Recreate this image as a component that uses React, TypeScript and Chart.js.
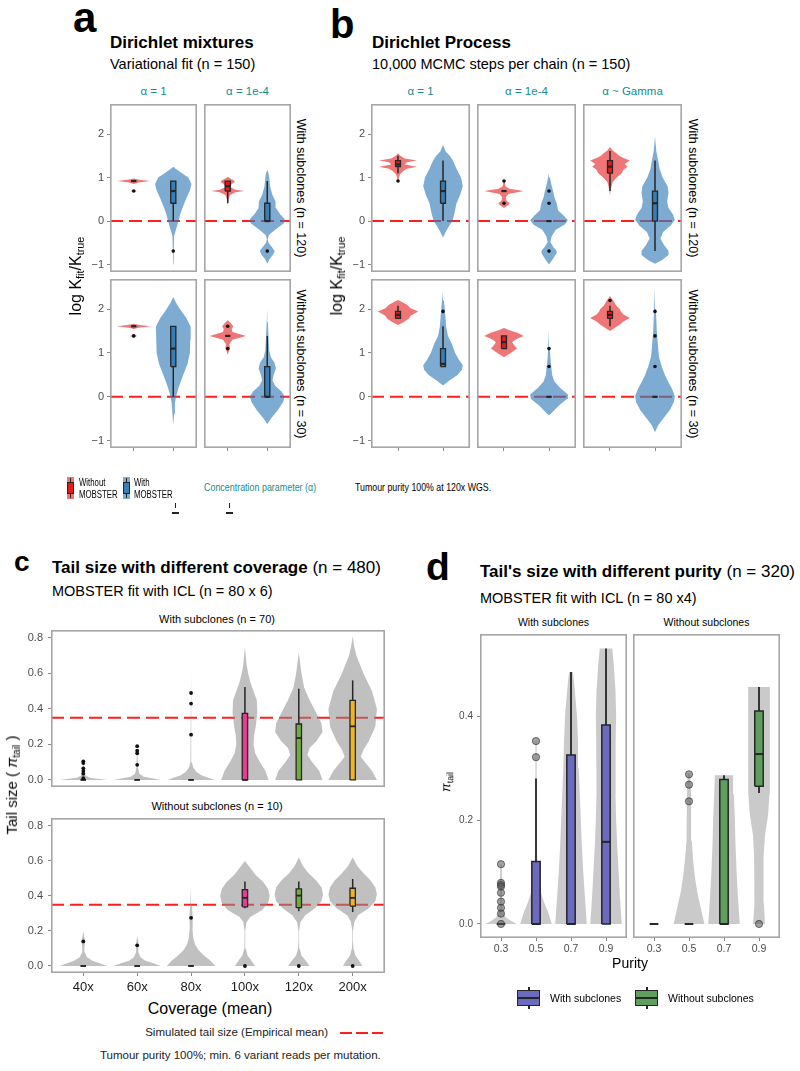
import React, { useEffect, useRef } from 'react';
import { Chart, registerables } from 'chart.js';

Chart.register(...registerables);

const FONT = '"Liberation Sans", Arial, Helvetica, sans-serif';
Chart.defaults.font.family = FONT;

/* ======================= Panels a & b : log(K_fit / K_true) ======================= */
const AB_Y_MIN = -1.17;
const AB_Y_MAX = 2.69;
const AB_Y_TICKS = [-1, 0, 1, 2];
const AB_Y_LABELS = ['\u22121', '0', '1', '2'];
const AB_GROUPS = ['Without MOBSTER', 'With MOBSTER'];
const AB_X_LABELS = ['', ''];
const AB_REF = 0;
const A_STRIPS = ['α = 1', 'α = 1e-4'];
const B_STRIPS = ['α = 1', 'α = 1e-4', 'α ~ Gamma'];
const AB_ROWS = ['With subclones (n = 120)', 'Without subclones (n = 30)'];

// violin profiles: [value, half-width in category units]
const A1_TOP_WO = [[0.66, 0], [0.69, 0.08], [0.72, 0], [0.85, 0], [0.89, 0.15], [0.92, 0.42], [0.95, 0.15], [0.98, 0]];
const A1_TOP_W = [[-1.0, 0], [-0.7, 0.012], [-0.35, 0.02], [-0.25, 0.05], [-0.1, 0.1], [0, 0.13], [0.2, 0.19], [0.5, 0.32], [0.7, 0.42], [0.85, 0.46], [1.0, 0.38], [1.1, 0.22], [1.2, 0.06], [1.25, 0]];
const A2_TOP_WO = [[0.38, 0], [0.5, 0.02], [0.6, 0.06], [0.66, 0.2], [0.69, 0.42], [0.72, 0.2], [0.78, 0.06], [0.85, 0.1], [0.9, 0.18], [0.94, 0.15], [0.98, 0.06], [1.02, 0]];
const A2_TOP_W = [[-0.98, 0], [-0.88, 0.05], [-0.78, 0.14], [-0.69, 0.19], [-0.6, 0.12], [-0.5, 0.03], [-0.42, 0.01], [-0.32, 0.04], [-0.2, 0.2], [-0.05, 0.42], [0.05, 0.44], [0.15, 0.33], [0.3, 0.22], [0.45, 0.21], [0.6, 0.13], [0.8, 0.07], [1.0, 0.05], [1.1, 0.03], [1.18, 0]];
const A1_BOT_WO = [[1.34, 0], [1.39, 0.08], [1.44, 0], [1.55, 0], [1.58, 0.15], [1.61, 0.44], [1.64, 0.15], [1.67, 0]];
const A1_BOT_W = [[-0.65, 0], [-0.4, 0.02], [-0.15, 0.04], [0, 0.07], [0.2, 0.13], [0.5, 0.25], [0.75, 0.36], [1.0, 0.42], [1.3, 0.43], [1.6, 0.44], [1.8, 0.33], [2.0, 0.17], [2.15, 0.07], [2.28, 0]];
const A2_BOT_WO = [[0.95, 0], [1.05, 0.03], [1.1, 0.06], [1.2, 0.04], [1.3, 0.12], [1.39, 0.46], [1.48, 0.12], [1.55, 0.1], [1.61, 0.14], [1.68, 0.08], [1.75, 0]];
const A2_BOT_W = [[-0.62, 0], [-0.5, 0.09], [-0.3, 0.27], [-0.12, 0.4], [0, 0.44], [0.12, 0.36], [0.25, 0.2], [0.38, 0.13], [0.5, 0.16], [0.65, 0.22], [0.78, 0.18], [0.9, 0.09], [1.05, 0.05], [1.4, 0.03], [1.7, 0.015], [2.0, 0]];

// boxes: [lower whisker, q1, median, q3, upper whisker] per group; outliers per group
const A1_TOP_BOX = [[0.92, 0.92, 0.92, 0.92, 0.92], [0, 0.41, 0.69, 0.92, 0.92]];
const A1_TOP_OUT = [[0.69], [-0.69]];
const A2_TOP_BOX = [[0.41, 0.69, 0.8, 0.92, 0.92], [0, 0, 0, 0.41, 0.92]];
const A2_TOP_OUT = [[], [-0.69]];
const A1_BOT_BOX = [[1.61, 1.61, 1.61, 1.61, 1.61], [0, 0.69, 1.1, 1.61, 1.61]];
const A1_BOT_OUT = [[1.39], []];
const A2_BOT_BOX = [[1.39, 1.39, 1.39, 1.39, 1.39], [0, 0, 0, 0.69, 1.39]];
const A2_BOT_OUT = [[1.61, 1.1], []];

const B1_TOP_WO = [[0.9, 0], [1.0, 0.02], [1.08, 0.05], [1.15, 0.12], [1.2, 0.2], [1.25, 0.42], [1.3, 0.15], [1.35, 0.2], [1.39, 0.42], [1.44, 0.15], [1.5, 0.05], [1.56, 0]];
const B1_TOP_W = [[-0.38, 0], [-0.25, 0.06], [-0.1, 0.14], [0, 0.21], [0.2, 0.26], [0.41, 0.3], [0.6, 0.38], [0.8, 0.44], [1.0, 0.4], [1.2, 0.3], [1.39, 0.22], [1.5, 0.15], [1.6, 0.06], [1.75, 0]];
const B2_TOP_WO = [[0.3, 0], [0.36, 0.08], [0.41, 0.13], [0.46, 0.06], [0.55, 0.04], [0.62, 0.1], [0.69, 0.44], [0.74, 0.12], [0.8, 0.03], [0.9, 0.02], [0.96, 0]];
const B2_TOP_W = [[-1.0, 0], [-0.88, 0.08], [-0.75, 0.16], [-0.69, 0.17], [-0.6, 0.1], [-0.48, 0.03], [-0.35, 0.06], [-0.2, 0.15], [-0.08, 0.35], [0.02, 0.42], [0.12, 0.33], [0.25, 0.2], [0.41, 0.17], [0.55, 0.12], [0.69, 0.09], [0.85, 0.05], [1.0, 0.02], [1.1, 0]];
const B3_TOP_WO = [[0.6, 0], [0.75, 0.02], [0.9, 0.06], [1.0, 0.15], [1.1, 0.26], [1.18, 0.3], [1.25, 0.39], [1.31, 0.33], [1.39, 0.44], [1.45, 0.3], [1.5, 0.2], [1.55, 0.15], [1.62, 0.06], [1.7, 0]];
const B3_TOP_W = [[-0.98, 0], [-0.9, 0.15], [-0.78, 0.3], [-0.69, 0.3], [-0.55, 0.2], [-0.4, 0.12], [-0.25, 0.18], [-0.1, 0.35], [0.03, 0.44], [0.15, 0.4], [0.3, 0.3], [0.45, 0.27], [0.65, 0.3], [0.8, 0.28], [1.0, 0.17], [1.2, 0.1], [1.39, 0.07], [1.6, 0.03], [1.94, 0]];
const B1_BOT_WO = [[1.64, 0], [1.7, 0.12], [1.78, 0.24], [1.85, 0.28], [1.95, 0.45], [2.02, 0.28], [2.1, 0.2], [2.17, 0.08], [2.21, 0]];
const B1_BOT_W = [[0.26, 0], [0.38, 0.15], [0.5, 0.32], [0.62, 0.42], [0.72, 0.44], [0.85, 0.35], [1.0, 0.27], [1.2, 0.2], [1.39, 0.11], [1.6, 0.07], [2.0, 0.04], [2.2, 0.02], [2.4, 0]];
const B2_BOT_WO = [[0.9, 0], [1.0, 0.15], [1.1, 0.29], [1.18, 0.22], [1.25, 0.18], [1.32, 0.28], [1.39, 0.44], [1.46, 0.3], [1.52, 0.12], [1.57, 0]];
const B2_BOT_W = [[-0.43, 0], [-0.35, 0.08], [-0.2, 0.22], [-0.05, 0.4], [0.05, 0.42], [0.2, 0.25], [0.35, 0.12], [0.5, 0.07], [0.7, 0.05], [0.9, 0.03], [1.1, 0.02], [1.52, 0]];
const B3_BOT_WO = [[1.5, 0], [1.58, 0.12], [1.65, 0.22], [1.72, 0.3], [1.8, 0.44], [1.88, 0.3], [1.95, 0.24], [2.0, 0.22], [2.08, 0.14], [2.2, 0.07], [2.3, 0]];
const B3_BOT_W = [[-0.81, 0], [-0.65, 0.07], [-0.5, 0.18], [-0.3, 0.33], [-0.12, 0.42], [0.02, 0.44], [0.18, 0.38], [0.35, 0.29], [0.5, 0.22], [0.69, 0.15], [0.9, 0.09], [1.1, 0.07], [1.5, 0.04], [2.0, 0.02], [2.5, 0]];

const B1_TOP_BOX = [[1.1, 1.25, 1.3, 1.39, 1.5], [0, 0.41, 0.69, 0.92, 1.39]];
const B1_TOP_OUT = [[0.92], []];
const B2_TOP_BOX = [[0.69, 0.69, 0.69, 0.69, 0.69], [0, 0, 0, 0, 0]];
const B2_TOP_OUT = [[0.92, 0.41], [0.69, 0.41, -0.69]];
const B3_TOP_BOX = [[0.69, 1.1, 1.25, 1.39, 1.61], [-0.69, 0, 0.41, 0.69, 1.39]];
const B3_TOP_OUT = [[], []];
const B1_BOT_BOX = [[1.79, 1.79, 1.87, 1.95, 2.08], [0.69, 0.69, 0.75, 1.1, 1.61]];
const B1_BOT_OUT = [[], [1.95]];
const B2_BOT_BOX = [[1.1, 1.1, 1.25, 1.39, 1.39], [0, 0, 0, 0, 0]];
const B2_BOT_OUT = [[], [1.1, 0.69]];
const B3_BOT_BOX = [[1.61, 1.79, 1.87, 1.95, 2.08], [0, 0, 0, 0, 0]];
const B3_BOT_OUT = [[2.2], [1.95, 1.39, 0.69]];

const AB_VIOLIN_COLORS = ['rgba(228,26,28,0.6)', 'rgba(55,126,184,0.65)'];
const AB_BOX_COLORS = ['#E8191B', '#377EB8'];

/* ======================= Panel c : tail size vs coverage ======================= */
const C_Y_MIN = -0.04;
const C_Y_MAX = 0.845;
const C_Y_TICKS = [0, 0.2, 0.4, 0.6, 0.8];
const C_Y_LABELS = ['0.0', '0.2', '0.4', '0.6', '0.8'];
const C_COVERAGE = ['40x', '60x', '80x', '100x', '120x', '200x'];
const C_REF = 0.35;
const C_ROWS = ['With subclones (n = 70)', 'Without subclones (n = 10)'];

const C_TOP_VIOLINS = [
  [[0, 0.44], [0.005, 0.3], [0.012, 0.12], [0.025, 0.04], [0.05, 0.015], [0.1, 0.005], [0.13, 0]],
  [[0, 0.44], [0.008, 0.3], [0.018, 0.12], [0.035, 0.04], [0.07, 0.015], [0.14, 0.006], [0.2, 0]],
  [[0, 0.44], [0.01, 0.35], [0.025, 0.2], [0.045, 0.1], [0.07, 0.04], [0.1, 0.015], [0.2, 0.008], [0.4, 0.005], [0.6, 0]],
  [[0, 0.44], [0.05, 0.38], [0.1, 0.28], [0.15, 0.19], [0.2, 0.16], [0.25, 0.17], [0.3, 0.2], [0.38, 0.23], [0.45, 0.22], [0.5, 0.16], [0.55, 0.1], [0.6, 0.06], [0.65, 0.03], [0.75, 0]],
  [[0, 0.44], [0.05, 0.38], [0.1, 0.25], [0.14, 0.16], [0.18, 0.2], [0.22, 0.33], [0.27, 0.44], [0.32, 0.42], [0.38, 0.32], [0.45, 0.2], [0.52, 0.1], [0.6, 0.05], [0.72, 0]],
  [[0, 0.45], [0.05, 0.36], [0.1, 0.23], [0.13, 0.15], [0.17, 0.2], [0.22, 0.3], [0.3, 0.42], [0.4, 0.45], [0.5, 0.36], [0.6, 0.2], [0.7, 0.07], [0.75, 0.03], [0.81, 0]],
];
const C_TOP_BOX = [[0, 0, 0, 0, 0], [0, 0, 0, 0, 0], [0, 0, 0, 0, 0], [0, 0, 0, 0.375, 0.523], [0, 0, 0.236, 0.315, 0.514], [0, 0, 0.302, 0.448, 0.561]];
const C_TOP_OUT = [[0.105, 0.095, 0.065, 0.05, 0.035, 0.01], [0.19, 0.165, 0.15, 0.085], [0.49, 0.43, 0.255], [], [], []];

const C_BOT_VIOLINS = [
  [[0, 0.44], [0.015, 0.3], [0.03, 0.17], [0.05, 0.07], [0.08, 0.02], [0.11, 0.02], [0.14, 0.035], [0.17, 0.015], [0.2, 0]],
  [[0, 0.44], [0.015, 0.3], [0.03, 0.15], [0.05, 0.06], [0.08, 0.02], [0.1, 0.02], [0.12, 0.03], [0.14, 0.015], [0.17, 0]],
  [[0, 0.45], [0.03, 0.36], [0.06, 0.24], [0.09, 0.14], [0.12, 0.08], [0.16, 0.04], [0.22, 0.025], [0.28, 0.03], [0.35, 0.015], [0.45, 0]],
  [[0, 0.19], [0.03, 0.12], [0.06, 0.05], [0.1, 0.015], [0.15, 0.005], [0.2, 0.006], [0.25, 0.03], [0.28, 0.1], [0.32, 0.32], [0.36, 0.43], [0.4, 0.46], [0.44, 0.43], [0.48, 0.34], [0.52, 0.2], [0.56, 0.1], [0.6, 0]],
  [[0, 0.2], [0.03, 0.13], [0.06, 0.05], [0.1, 0.015], [0.15, 0.005], [0.2, 0.006], [0.25, 0.03], [0.29, 0.12], [0.33, 0.3], [0.37, 0.42], [0.41, 0.45], [0.45, 0.42], [0.49, 0.32], [0.53, 0.18], [0.57, 0.08], [0.62, 0]],
  [[0, 0.18], [0.03, 0.12], [0.06, 0.05], [0.1, 0.015], [0.15, 0.005], [0.2, 0.006], [0.25, 0.03], [0.29, 0.1], [0.33, 0.3], [0.37, 0.42], [0.41, 0.45], [0.45, 0.42], [0.49, 0.33], [0.53, 0.2], [0.57, 0.09], [0.62, 0]],
];
const C_BOT_BOX = [[0, 0, 0, 0, 0], [0, 0, 0, 0, 0], [0, 0, 0, 0, 0], [0.329, 0.338, 0.389, 0.436, 0.483], [0.313, 0.333, 0.402, 0.44, 0.483], [0.308, 0.342, 0.389, 0.444, 0.497]];
const C_BOT_OUT = [[0.14], [0.118], [0.275], [0], [0], [0]];

const C_VIOLIN_COLOR = 'rgba(140,140,140,0.55)';
const C_BOX_COLORS = ['#444', '#444', '#444', '#EA3A93', '#74AC38', '#F1B51D'];

/* ======================= Panel d : tail size vs purity ======================= */
const D_Y_MIN = -0.027;
const D_Y_MAX = 0.558;
const D_Y_TICKS = [0, 0.2, 0.4];
const D_Y_LABELS = ['0.0', '0.2', '0.4'];
const D_PURITY = ['0.3', '0.5', '0.7', '0.9'];
const D_FACETS = ['With subclones', 'Without subclones'];

const D_WITH_VIOLINS = [
  [[0, 0.45], [0.005, 0.3], [0.012, 0.15], [0.02, 0.07], [0.04, 0.035], [0.08, 0.03], [0.115, 0.02]],
  [[0, 0.45], [0.02, 0.36], [0.04, 0.24], [0.06, 0.14], [0.08, 0.07], [0.1, 0.04], [0.15, 0.025], [0.2, 0.02], [0.28, 0.02], [0.352, 0.015]],
  [[0, 0.45], [0.05, 0.4], [0.1, 0.35], [0.15, 0.31], [0.2, 0.28], [0.25, 0.25], [0.3, 0.22], [0.35, 0.2], [0.4, 0.17], [0.44, 0.12], [0.47, 0.08], [0.485, 0.05]],
  [[0, 0.45], [0.05, 0.4], [0.1, 0.36], [0.15, 0.32], [0.2, 0.29], [0.25, 0.27], [0.3, 0.27], [0.35, 0.28], [0.4, 0.29], [0.45, 0.27], [0.5, 0.22], [0.53, 0.18]],
];
const D_WITH_BOX = [[0, 0, 0, 0, 0], [0, 0, 0, 0.12, 0.28], [0, 0, 0, 0.325, 0.485], [0, 0, 0.158, 0.383, 0.53]];
const D_WITH_OUT = [[0.115, 0.079, 0.075, 0.072, 0.06, 0.043, 0.031, 0.02, 0], [0.352, 0.321], [], []];

const D_WITHOUT_VIOLINS = [
  [],
  [[0, 0.44], [0.03, 0.34], [0.06, 0.24], [0.09, 0.17], [0.12, 0.12], [0.16, 0.08], [0.2, 0.06], [0.24, 0.06], [0.27, 0.05], [0.29, 0.04]],
  [[0, 0.45], [0.05, 0.4], [0.1, 0.36], [0.15, 0.33], [0.2, 0.31], [0.25, 0.28], [0.286, 0.26]],
  [[0, 0.17], [0.04, 0.14], [0.085, 0.12], [0.13, 0.14], [0.17, 0.17], [0.21, 0.26], [0.25, 0.3], [0.3, 0.31], [0.35, 0.31], [0.4, 0.31], [0.456, 0.31]],
];
const D_WITHOUT_BOX = [[0, 0, 0, 0, 0], [0, 0, 0, 0, 0], [0, 0, 0, 0.278, 0.286], [0.252, 0.265, 0.327, 0.41, 0.456]];
const D_WITHOUT_OUT = [[], [0.288, 0.268, 0.236], [], [0]];

const D_VIOLIN_COLOR = 'rgba(150,150,150,0.5)';
const D_WITH_COLOR = '#6A6ABF';
const D_WITHOUT_COLOR = '#5E9F5E';

/* ======================= chart building ======================= */
const DARK = '#262626';
const REF_RED = '#FF1E1E';

function lineDs(data, color, width, order) {
  return { type: 'line', data, borderColor: color, borderWidth: width, pointRadius: 0, fill: false, order, borderCapStyle: 'butt' };
}

const panelBorder = {
  id: 'panelBorder',
  afterDatasetsDraw(chart) {
    const { ctx, chartArea: a } = chart;
    ctx.save();
    ctx.strokeStyle = '#A6A6A6';
    ctx.lineWidth = 1.6;
    ctx.strokeRect(a.left + 0.8, a.top + 0.8, a.right - a.left - 1.6, a.bottom - a.top - 1.6);
    ctx.restore();
  },
};

const STYLE = {
  ab: { boxHalf: 0.065, boxW: 1.3, medW: 2.2, whW: 1.5, ptR: 1.8, ptFill: '#111', ptBorder: '#111', ptBW: 0, yFont: 11, yPad: 3, xFont: 11, xPad: 2, xColor: '#4D4D4D' },
  b: { boxHalf: 0.055, boxW: 1.3, medW: 2.2, whW: 1.5, ptR: 1.8, ptFill: '#111', ptBorder: '#111', ptBW: 0, yFont: 11, yPad: 3, xFont: 11, xPad: 2, xColor: '#4D4D4D' },
  c: { boxHalf: 0.05, boxW: 1.3, medW: 1.8, whW: 1.5, ptR: 1.9, ptFill: '#111', ptBorder: '#111', ptBW: 0, yFont: 11, yPad: 5, xFont: 13, xPad: 4, xColor: '#1A1A1A' },
  d: { boxHalf: 0.12, boxW: 1.5, medW: 2.0, whW: 1.8, ptR: 3.6, ptFill: 'rgba(85,85,85,0.55)', ptBorder: 'rgba(60,60,60,0.7)', ptBW: 1, yFont: 10, yPad: 4, xFont: 10.5, xPad: 2, xColor: '#4D4D4D' },
};

function makeConfig(f) {
  const st = STYLE[f.kind];
  const n = f.xLabels.length;
  const xMin = 0.4;
  const xMax = n + 0.6;
  const ds = [];
  if (f.refY !== null) {
    ds.push({ type: 'line', data: [{ x: xMin, y: f.refY }, { x: xMax, y: f.refY }], borderColor: REF_RED, borderWidth: 2, borderDash: [13, 6], pointRadius: 0, fill: false, order: 100 });
  }
  for (let i = 0; i < n; i++) {
    const x = i + 1;
    const prof = f.violins[i];
    if (prof && prof.length > 1) {
      const right = prof.map(([y, w]) => ({ x: x + w, y }));
      const left = prof.slice().reverse().map(([y, w]) => ({ x: x - w, y }));
      ds.push({ type: 'line', data: [...right, ...left, right[0]], fill: 'shape', backgroundColor: f.violinColors[i], borderColor: 'rgba(0,0,0,0)', borderWidth: 0, pointRadius: 0, order: 50 });
    }
    const b = f.boxes[i];
    if (b) {
      const [lo, q1, med, q3, hi] = b;
      const h = st.boxHalf;
      if (hi > q3) ds.push(lineDs([{ x, y: q3 }, { x, y: hi }], DARK, st.whW, 30));
      if (lo < q1) ds.push(lineDs([{ x, y: lo }, { x, y: q1 }], DARK, st.whW, 30));
      ds.push({ type: 'line', data: [{ x: x - h, y: q1 }, { x: x + h, y: q1 }, { x: x + h, y: q3 }, { x: x - h, y: q3 }, { x: x - h, y: q1 }], fill: 'shape', backgroundColor: f.boxColors[i], borderColor: DARK, borderWidth: st.boxW, pointRadius: 0, order: 20 });
      ds.push(lineDs([{ x: x - h, y: med }, { x: x + h, y: med }], DARK, st.medW, 10));
    }
    const outs = f.outliers[i];
    if (outs && outs.length) {
      ds.push({ type: 'scatter', data: outs.map((y) => ({ x, y })), pointRadius: st.ptR, pointBackgroundColor: st.ptFill, pointBorderColor: st.ptBorder, pointBorderWidth: st.ptBW, order: 1 });
    }
  }
  const grid = { drawOnChartArea: false, drawTicks: true, tickLength: 3, color: '#8A8A8A', lineWidth: 1 };
  return {
    type: 'line',
    data: { datasets: ds },
    plugins: [panelBorder],
    options: {
      responsive: false,
      animation: false,
      events: [],
      layout: { padding: 0, autoPadding: false },
      plugins: { legend: { display: false }, tooltip: { enabled: false }, title: { display: false } },
      scales: {
        x: {
          type: 'linear', min: xMin, max: xMax, display: f.xAxisH > 0,
          afterBuildTicks: (ax) => { ax.ticks = f.xLabels.map((_, i) => ({ value: i + 1 })); },
          afterFit: (ax) => { ax.height = f.xAxisH; ax.paddingLeft = 0; ax.paddingRight = 0; ax.paddingTop = 0; ax.paddingBottom = 0; },
          grid, border: { display: false },
          ticks: { autoSkip: false, maxRotation: 0, padding: st.xPad, font: { family: FONT, size: st.xFont }, color: st.xColor, callback: (_v, idx) => f.xLabels[idx] },
        },
        y: {
          type: 'linear', min: f.yMin, max: f.yMax, display: f.yAxisW > 0,
          afterBuildTicks: (ax) => { ax.ticks = f.yTicks.map((v) => ({ value: v })); },
          afterFit: (ax) => { ax.width = f.yAxisW; ax.paddingTop = 0; ax.paddingBottom = 0; ax.paddingLeft = 0; ax.paddingRight = 0; },
          grid, border: { display: false },
          ticks: { padding: st.yPad, font: { family: FONT, size: st.yFont }, color: '#4D4D4D', callback: (_v, idx) => f.yLabels[idx] },
        },
      },
    },
  };
}

function abFacet(plotLeft, plotTop, plotW, plotH, withY, withX, violins, boxes, outliers, kind) {
  const yw = withY ? 26 : 0;
  return {
    left: plotLeft - yw, top: plotTop, plotW, plotH, yAxisW: yw, xAxisH: withX ? 6 : 0,
    yMin: AB_Y_MIN, yMax: AB_Y_MAX, yTicks: AB_Y_TICKS, yLabels: AB_Y_LABELS, xLabels: AB_X_LABELS,
    violins, boxes, outliers, violinColors: AB_VIOLIN_COLORS, boxColors: AB_BOX_COLORS, refY: AB_REF, kind,
  };
}

const FACETS = [
  abFacet(110, 104, 87, 168, true, false, [A1_TOP_WO, A1_TOP_W], A1_TOP_BOX, A1_TOP_OUT, 'ab'),
  abFacet(204, 104, 87, 168, false, false, [A2_TOP_WO, A2_TOP_W], A2_TOP_BOX, A2_TOP_OUT, 'ab'),
  abFacet(110, 279, 87, 169, true, true, [A1_BOT_WO, A1_BOT_W], A1_BOT_BOX, A1_BOT_OUT, 'ab'),
  abFacet(204, 279, 87, 169, false, true, [A2_BOT_WO, A2_BOT_W], A2_BOT_BOX, A2_BOT_OUT, 'ab'),
  abFacet(371, 104, 99, 168, true, false, [B1_TOP_WO, B1_TOP_W], B1_TOP_BOX, B1_TOP_OUT, 'b'),
  abFacet(477, 104, 99, 168, false, false, [B2_TOP_WO, B2_TOP_W], B2_TOP_BOX, B2_TOP_OUT, 'b'),
  abFacet(583, 104, 99, 168, false, false, [B3_TOP_WO, B3_TOP_W], B3_TOP_BOX, B3_TOP_OUT, 'b'),
  abFacet(371, 279, 99, 169, true, true, [B1_BOT_WO, B1_BOT_W], B1_BOT_BOX, B1_BOT_OUT, 'b'),
  abFacet(477, 279, 99, 169, false, true, [B2_BOT_WO, B2_BOT_W], B2_BOT_BOX, B2_BOT_OUT, 'b'),
  abFacet(583, 279, 99, 169, false, true, [B3_BOT_WO, B3_BOT_W], B3_BOT_BOX, B3_BOT_OUT, 'b'),
  {
    left: 15, top: 630, plotW: 334, plotH: 157, yAxisW: 36, xAxisH: 0,
    yMin: C_Y_MIN, yMax: C_Y_MAX, yTicks: C_Y_TICKS, yLabels: C_Y_LABELS, xLabels: C_COVERAGE,
    violins: C_TOP_VIOLINS, boxes: C_TOP_BOX, outliers: C_TOP_OUT,
    violinColors: C_COVERAGE.map(() => C_VIOLIN_COLOR), boxColors: C_BOX_COLORS, refY: C_REF, kind: 'c',
  },
  {
    left: 15, top: 818, plotW: 334, plotH: 155, yAxisW: 36, xAxisH: 24,
    yMin: C_Y_MIN, yMax: C_Y_MAX, yTicks: C_Y_TICKS, yLabels: C_Y_LABELS, xLabels: C_COVERAGE,
    violins: C_BOT_VIOLINS, boxes: C_BOT_BOX, outliers: C_BOT_OUT,
    violinColors: C_COVERAGE.map(() => C_VIOLIN_COLOR), boxColors: C_BOX_COLORS, refY: C_REF, kind: 'c',
  },
  {
    left: 454, top: 634, plotW: 147, plotH: 304, yAxisW: 26, xAxisH: 20,
    yMin: D_Y_MIN, yMax: D_Y_MAX, yTicks: D_Y_TICKS, yLabels: D_Y_LABELS, xLabels: D_PURITY,
    violins: D_WITH_VIOLINS, boxes: D_WITH_BOX, outliers: D_WITH_OUT,
    violinColors: D_PURITY.map(() => D_VIOLIN_COLOR), boxColors: D_PURITY.map(() => D_WITH_COLOR), refY: null, kind: 'd',
  },
  {
    left: 633, top: 634, plotW: 147, plotH: 304, yAxisW: 0, xAxisH: 20,
    yMin: D_Y_MIN, yMax: D_Y_MAX, yTicks: D_Y_TICKS, yLabels: D_Y_LABELS, xLabels: D_PURITY,
    violins: D_WITHOUT_VIOLINS, boxes: D_WITHOUT_BOX, outliers: D_WITHOUT_OUT,
    violinColors: D_PURITY.map(() => D_VIOLIN_COLOR), boxColors: D_PURITY.map(() => D_WITHOUT_COLOR), refY: null, kind: 'd',
  },
];

function FacetChart({ spec }) {
  const ref = useRef(null);
  const w = spec.yAxisW + spec.plotW;
  const h = spec.plotH + spec.xAxisH;
  useEffect(() => {
    const chart = new Chart(ref.current, makeConfig(spec));
    return () => chart.destroy();
  }, []);
  return (
    <canvas ref={ref} width={w} height={h}
      style={{ position: 'absolute', left: spec.left, top: spec.top, width: w, height: h, display: 'block' }} />
  );
}

/* ======================= text helpers ======================= */
function Txt({ x, base, size, bold = false, color = '#000', align = 'left', sx = 1, italic = false, children }) {
  const tx = align === 'center' ? '-50%' : align === 'right' ? '-100%' : '0';
  return (
    <div style={{
      position: 'absolute', left: x, top: base - 0.8465 * size, fontSize: size, lineHeight: `${size}px`,
      fontWeight: bold ? 700 : 400, fontStyle: italic ? 'italic' : 'normal', color, fontFamily: FONT, whiteSpace: 'nowrap',
      transform: `translateX(${tx}) scaleX(${sx})`, transformOrigin: align,
    }}>{children}</div>
  );
}

function RotTxt({ cx, cy, size, deg, color = '#000', children }) {
  return (
    <div style={{
      position: 'absolute', left: cx, top: cy, fontSize: size, lineHeight: 1, color, fontFamily: FONT,
      whiteSpace: 'nowrap', transform: `translate(-50%,-50%) rotate(${deg}deg)`,
    }}>{children}</div>
  );
}

const sub = { fontSize: '0.68em', verticalAlign: '-0.3em' };
const TEAL = '#178B8B';

function Key({ x, top, fill, light }) {
  return (
    <>
      <div style={{ position: 'absolute', left: x, top, width: 7, height: 22, background: light }} />
      <div style={{ position: 'absolute', left: x + 3, top: top + 1, width: 1, height: 5, background: DARK }} />
      <div style={{ position: 'absolute', left: x + 3, top: top + 16, width: 1, height: 5, background: DARK }} />
      <div style={{ position: 'absolute', left: x, top: top + 5, width: 7, height: 12, background: fill, border: `1.3px solid ${DARK}`, boxSizing: 'border-box' }} />
    </>
  );
}

function DKey({ x, top, fill }) {
  return (
    <>
      <div style={{ position: 'absolute', left: x + 11, top, width: 1.5, height: 22, background: DARK }} />
      <div style={{ position: 'absolute', left: x, top: top + 3, width: 23, height: 16, background: fill, border: `1.5px solid ${DARK}`, boxSizing: 'border-box' }} />
      <div style={{ position: 'absolute', left: x, top: top + 10, width: 23, height: 2, background: DARK }} />
    </>
  );
}

export default function App() {
  return (
    <div style={{ position: 'relative', width: 800, height: 1071, background: '#fff', overflow: 'hidden', fontFamily: FONT }}>
      <style>{'html,body{margin:0;padding:0;background:#fff}'}</style>
      {FACETS.map((f, i) => <FacetChart key={i} spec={f} />)}

      {/* ---- panel a ---- */}
      <Txt x={73} base={33} size={42} bold>a</Txt>
      <Txt x={110} base={48} size={17} bold>Dirichlet mixtures</Txt>
      <Txt x={110} base={69} size={14.5}>Variational fit (n = 150)</Txt>
      <Txt x={153.5} base={96} size={11.5} align="center" color={TEAL}>{A_STRIPS[0]}</Txt>
      <Txt x={247.5} base={96} size={11.5} align="center" color={TEAL}>{A_STRIPS[1]}</Txt>
      <RotTxt cx={301} cy={188} size={12.5} deg={90}>{AB_ROWS[0]}</RotTxt>
      <RotTxt cx={301} cy={363.5} size={12.5} deg={90}>{AB_ROWS[1]}</RotTxt>
      <RotTxt cx={77} cy={276} size={16} deg={-90}>log K<span style={sub}>fit</span>/K<span style={sub}>true</span></RotTxt>

      {/* ---- panel b ---- */}
      <Txt x={330} base={38} size={40} bold>b</Txt>
      <Txt x={372} base={48} size={17} bold>Dirichlet Process</Txt>
      <Txt x={372} base={69} size={14.5}>10,000 MCMC steps per chain (n = 150)</Txt>
      <Txt x={420.5} base={96} size={11.5} align="center" color={TEAL}>{B_STRIPS[0]}</Txt>
      <Txt x={526.5} base={96} size={11.5} align="center" color={TEAL}>{B_STRIPS[1]}</Txt>
      <Txt x={632.5} base={96} size={11.5} align="center" color={TEAL}>{B_STRIPS[2]}</Txt>
      <RotTxt cx={693} cy={188} size={12.5} deg={90}>{AB_ROWS[0]}</RotTxt>
      <RotTxt cx={693} cy={363.5} size={12.5} deg={90}>{AB_ROWS[1]}</RotTxt>
      <RotTxt cx={338} cy={276} size={16} deg={-90}>log K<span style={sub}>fit</span>/K<span style={sub}>true</span></RotTxt>

      {/* ---- legend row a/b ---- */}
      <Key x={67} top={477} fill={AB_BOX_COLORS[0]} light={AB_VIOLIN_COLORS[0]} />
      <Txt x={79} base={486} size={10} sx={0.78}>Without</Txt>
      <Txt x={79} base={498} size={10} sx={0.78}>MOBSTER</Txt>
      <Key x={123} top={477} fill={AB_BOX_COLORS[1]} light={AB_VIOLIN_COLORS[1]} />
      <Txt x={134} base={486} size={10} sx={0.78}>{AB_GROUPS[1].split(' ')[0]}</Txt>
      <Txt x={134} base={498} size={10} sx={0.78}>MOBSTER</Txt>
      <Txt x={204} base={491} size={11} sx={0.81} color={TEAL}>Concentration parameter (α)</Txt>
      <Txt x={355} base={491} size={11} sx={0.8}>Tumour purity 100% at 120x WGS.</Txt>
      <div style={{ position: 'absolute', left: 175, top: 503, width: 1, height: 5, background: '#222' }} />
      <div style={{ position: 'absolute', left: 172, top: 512, width: 7, height: 1.5, background: '#222' }} />
      <div style={{ position: 'absolute', left: 229, top: 503, width: 1, height: 5, background: '#222' }} />
      <div style={{ position: 'absolute', left: 226, top: 512, width: 7, height: 1.5, background: '#222' }} />

      {/* ---- panel c ---- */}
      <Txt x={14} base={571.5} size={28} bold>c</Txt>
      <Txt x={52} base={573} size={17}><b>Tail size with different coverage</b> (n = 480)</Txt>
      <Txt x={52} base={596} size={14.5}>MOBSTER fit with ICL (n = 80 x 6)</Txt>
      <Txt x={217} base={623} size={11} align="center">{C_ROWS[0]}</Txt>
      <Txt x={217} base={810} size={11} align="center">{C_ROWS[1]}</Txt>
      <RotTxt cx={13} cy={785} size={15} deg={-90}>Tail size ( <i>π</i><span style={sub}>tail</span> )</RotTxt>
      <Txt x={210} base={1015} size={16} align="center">Coverage (mean)</Txt>
      <Txt x={328} base={1037} size={11.5} align="right" color="#222">Simulated tail size (Empirical mean)</Txt>
      <svg style={{ position: 'absolute', left: 338, top: 1028 }} width={46} height={10}>
        <line x1={2} y1={5} x2={45} y2={5} stroke={REF_RED} strokeWidth={2} strokeDasharray="12 4" />
      </svg>
      <Txt x={100} base={1060} size={11.5} color="#222">Tumour purity 100%; min. 6 variant reads per mutation.</Txt>

      {/* ---- panel d ---- */}
      <Txt x={426} base={580} size={39} bold>d</Txt>
      <Txt x={480} base={577} size={17}><b>Tail's size with different purity</b> (n = 320)</Txt>
      <Txt x={480} base={603} size={14.5}>MOBSTER fit with ICL (n = 80 x4)</Txt>
      <Txt x={553.5} base={626} size={10.5} align="center">{D_FACETS[0]}</Txt>
      <Txt x={706.5} base={626} size={10.5} align="center">{D_FACETS[1]}</Txt>
      <RotTxt cx={447} cy={782} size={13} deg={-90}><i>π</i><span style={sub}>tail</span></RotTxt>
      <Txt x={630} base={968} size={14} align="center">Purity</Txt>
      <DKey x={517} top={987} fill={D_WITH_COLOR} />
      <Txt x={550} base={1002} size={10.5}>{D_FACETS[0]}</Txt>
      <DKey x={635} top={987} fill={D_WITHOUT_COLOR} />
      <Txt x={668} base={1002} size={10.5}>{D_FACETS[1]}</Txt>
    </div>
  );
}
